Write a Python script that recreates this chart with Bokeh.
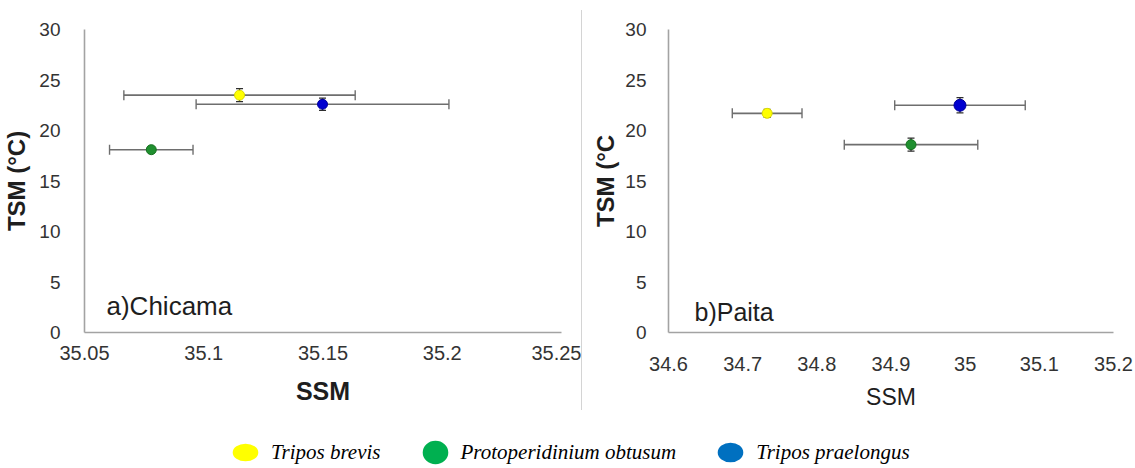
import numpy as np
from bokeh.plotting import figure
from bokeh.models import (ColumnDataSource, Range1d, FixedTicker, NumeralTickFormatter,
                          Whisker, TeeHead, Label, Legend, LegendItem, Spacer)
from bokeh.layouts import row, column
from bokeh.embed import file_html
from bokeh.resources import INLINE

# ---------------- data ----------------
species = ["Tripos brevis", "Protoperidinium obtusum", "Tripos praelongus"]
marker_colors = ["#ffff00", "#1f8f2f", "#0000d0"]
marker_lines = ["#d8d800", "#16701f", "#00009a"]
legend_colors = ["#ffff00", "#00b050", "#0070c0"]

chicama_ssm = [35.1150, 35.0780, 35.1498]
chicama_ssm_err = [0.0485, 0.0175, 0.0530]
chicama_tsm = [23.5, 18.1, 22.6]
chicama_tsm_err = [0.65, 0.2, 0.6]

paita_ssm = [34.733, 34.927, 34.993]
paita_ssm_err = [0.047, 0.090, 0.088]
paita_tsm = [21.7, 18.6, 22.5]
paita_tsm_err = [0.4, 0.65, 0.75]
paita_marker_size = [10, 10, 12]

chicama_xticks = [35.05, 35.1, 35.15, 35.2, 35.25]
chicama_xlabels = ["35.05", "35.1", "35.15", "35.2", "35.25"]
paita_xticks = [34.6, 34.7, 34.8, 34.9, 35.0, 35.1, 35.2]
paita_xlabels = ["34.6", "34.7", "34.8", "34.9", "35", "35.1", "35.2"]
yticks = [0, 5, 10, 15, 20, 25, 30]

FONT = "Liberation Sans"
AXIS_COLOR = "#a3a3a3"
TICK_COLOR = "#333333"


def make_panel(ssm, ssm_err, tsm, tsm_err, sizes, xr, xticks, xlabels,
               ylabel, xlabel, xlabel_style, title, width, height,
               b_left, b_right, b_top, b_bottom, x_std, x_lab_std, y_std, y_lab_std,
               xtick_size, lab_x, lab_y, lab_size):
    p = figure(width=width, height=height, x_range=Range1d(*xr), y_range=Range1d(0, 30),
               toolbar_location=None, output_backend="svg",
               min_border_left=b_left, min_border_right=b_right,
               min_border_top=b_top, min_border_bottom=b_bottom)
    p.outline_line_color = None
    p.grid.visible = False
    p.background_fill_color = "white"
    p.border_fill_color = "white"

    for ax in (p.xaxis[0], p.yaxis[0]):
        ax.axis_line_color = AXIS_COLOR
        ax.axis_line_width = 1.6
        ax.major_tick_line_color = None
        ax.minor_tick_line_color = None
        ax.major_label_text_color = TICK_COLOR
        ax.axis_label_text_color = "#1e1e1e"

    xa = p.xaxis[0]
    xa.ticker = FixedTicker(ticks=xticks)
    xa.formatter = NumeralTickFormatter(format="0.[00]")
    xa.major_label_overrides = {t: l for t, l in zip(xticks, xlabels)}
    xa.major_label_text_font = FONT
    xa.major_label_text_font_size = xtick_size
    xa.major_label_standoff = x_std
    xa.axis_label = xlabel
    xa.axis_label_text_font = FONT
    xa.axis_label_text_font_style = xlabel_style
    xa.axis_label_text_font_size = "25px" if xlabel_style == "bold" else "23px"
    xa.axis_label_standoff = x_lab_std

    ya = p.yaxis[0]
    ya.ticker = FixedTicker(ticks=yticks)
    ya.major_label_text_font = FONT
    ya.major_label_text_font_size = "19px"
    ya.major_label_standoff = y_std
    ya.axis_label = ylabel
    ya.axis_label_text_font = FONT
    ya.axis_label_text_font_style = "bold"
    ya.axis_label_text_font_size = "24px"
    ya.axis_label_standoff = y_lab_std

    src = ColumnDataSource(dict(
        x=ssm, y=tsm,
        xl=[a - b for a, b in zip(ssm, ssm_err)], xu=[a + b for a, b in zip(ssm, ssm_err)],
        yl=[a - b for a, b in zip(tsm, tsm_err)], yu=[a + b for a, b in zip(tsm, tsm_err)],
        fc=marker_colors, lc=marker_lines, sz=sizes))

    hw = Whisker(source=src, base="y", lower="xl", upper="xu", dimension="width",
                 line_color="#6e6e6e", line_width=1.6,
                 lower_head=TeeHead(size=10, line_color="#6e6e6e", line_width=1.4),
                 upper_head=TeeHead(size=10, line_color="#6e6e6e", line_width=1.4))
    vw = Whisker(source=src, base="x", lower="yl", upper="yu", dimension="height",
                 line_color="#2e2e2e", line_width=1.3,
                 lower_head=TeeHead(size=7, line_color="#2e2e2e", line_width=1.3),
                 upper_head=TeeHead(size=7, line_color="#2e2e2e", line_width=1.3))
    p.add_layout(hw)
    p.add_layout(vw)
    p.scatter("x", "y", source=src, size="sz", fill_color="fc", line_color="lc",
              line_width=1)

    p.add_layout(Label(x=lab_x, y=lab_y, x_units="screen", y_units="screen", text=title,
                       text_font=FONT, text_font_size=lab_size, text_color="#1e1e1e",
                       text_baseline="alphabetic"))
    return p


p1 = make_panel(chicama_ssm, chicama_ssm_err, chicama_tsm, chicama_tsm_err, [10, 10, 10],
                (35.05, 35.25), chicama_xticks, chicama_xlabels,
                "TSM (°C)", "SSM", "bold", "a)Chicama", 581, 416,
                82, 20, 29, 84, 7, 14, 18, 6, "20px", 22, 27, "26px")

p2 = make_panel(paita_ssm, paita_ssm_err, paita_tsm, paita_tsm_err, paita_marker_size,
                (34.6, 35.2), paita_xticks, paita_xlabels,
                "TSM (°C", "SSM", "normal", "b)Paita", 553, 416,
                86, 22, 27, 83, 18, 10, 16, 3, "20px", 26, 21, "25px")

sep = Spacer(width=1, height=400, margin=(10, 0, 0, 0),
             styles={"background-color": "#d4d4d4"})

# ---------------- legend ----------------
leg = figure(width=1135, height=52, x_range=Range1d(0, 1), y_range=Range1d(0, 1),
             toolbar_location=None, output_backend="svg", min_border=0,
             x_axis_location=None, y_axis_location=None)
leg.outline_line_color = None
leg.grid.visible = False

items = []
ell_w = [29, 24, 25]
ell_h = [20, 22, 19]
for name, col, w, h in zip(species, legend_colors, ell_w, ell_h):
    r = leg.ellipse(x=np.array([np.nan]), y=np.array([np.nan]), width=w, height=h,
                    width_units="screen", height_units="screen",
                    fill_color=col, line_color=None)
    items.append(LegendItem(label=name, renderers=[r]))

legend = Legend(items=items, orientation="horizontal", location=(229, 0),
                glyph_width=32, glyph_height=32, label_standoff=10, spacing=38,
                padding=0, margin=0, border_line_alpha=0, background_fill_alpha=0,
                label_text_font="Liberation Serif", label_text_font_style="italic",
                label_text_font_size="21px", label_text_color="#000000")
leg.add_layout(legend)

layout = column(row(p1, sep, p2), leg)

open("out.html", "w").write(file_html(layout, INLINE))
